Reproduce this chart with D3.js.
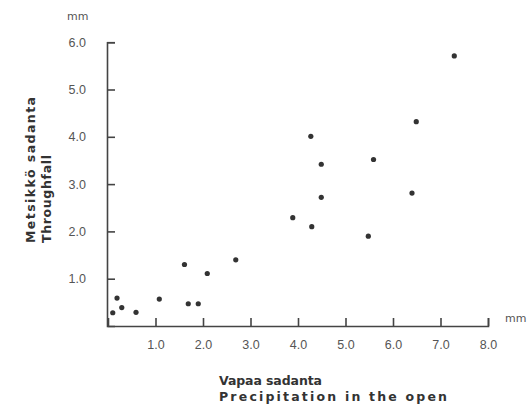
<!DOCTYPE html>
<html lang="fi">

<head>
    <meta charset="UTF-8">
    <title>Metsikkö sadanta</title>
    <style>
        * {
            margin: 0;
            padding: 0;
        }

        html,
        body {
            overflow: hidden;
            background: #fff;
        }
    </style>
</head>

<body>
    <div id="chart"></div>
    <script src="https://cdn.jsdelivr.net/npm/d3@7"></script>
    <script>
        // vapaa sadanta (open) vs metsikkö sadanta (throughfall), mm
        const openPrecip = [0.10, 0.19, 0.29, 0.59, 1.08, 1.61, 1.69, 1.90, 2.09, 2.69,
            3.89, 4.29, 4.27, 4.49, 4.49, 5.48, 5.59, 6.40, 6.49, 7.29]
        const throughfall = [0.28, 0.59, 0.39, 0.29, 0.57, 1.30, 0.47, 0.47, 1.11, 1.40,
            2.29, 2.10, 4.01, 3.42, 2.72, 1.90, 3.52, 2.81, 4.32, 5.71]
        const xTicks = [1, 2, 3, 4, 5, 6, 7, 8]
        const yTicks = [1, 2, 3, 4, 5, 6]

        function drawChart() {
            const width = 531
            const height = 405
            const svg = d3.select('#chart')
                .append('svg')
                .attr('width', width)
                .attr('height', height)
                .style('background', '#fff')
                .style('font-family', 'DejaVu Sans, sans-serif')

            const x = d3.scaleLinear().domain([0, 8]).range([108, 488])
            const y = d3.scaleLinear().domain([0, 6]).range([326, 42.2])

            const axisColor = '#444'
            const labelColor = '#555'

            // x-akseli, tikit ylöspäin
            const gx = svg.append('g')
                .attr('transform', `translate(0,${y(0)})`)
                .call(d3.axisBottom(x)
                    .tickValues(xTicks)
                    .tickFormat(d3.format('.1f'))
                    .tickSizeInner(-8)
                    .tickSizeOuter(-8)
                    .tickPadding(14))
            gx.select('.domain').attr('stroke', axisColor).attr('stroke-width', 1.6)
            gx.selectAll('.tick line').attr('stroke', axisColor).attr('stroke-width', 1.6)
            gx.selectAll('.tick text')
                .attr('fill', labelColor)
                .style('font-size', '12.5px')

            // y-akseli, tikit oikealle
            const gy = svg.append('g')
                .attr('transform', `translate(${x(0) - 1},0)`)
                .call(d3.axisLeft(y)
                    .tickValues(yTicks)
                    .tickFormat(d3.format('.1f'))
                    .tickSizeInner(-8)
                    .tickSizeOuter(-8)
                    .tickPadding(21))
            gy.select('.domain').attr('stroke', axisColor).attr('stroke-width', 1.6)
            gy.selectAll('.tick line').attr('stroke', axisColor).attr('stroke-width', 1.6)
            gy.selectAll('.tick text')
                .attr('fill', labelColor)
                .style('font-size', '12.5px')

            // yksiköt
            svg.append('text')
                .attr('x', 67)
                .attr('y', 20)
                .attr('fill', labelColor)
                .style('font-size', '11px')
                .text('mm')
            svg.append('text')
                .attr('x', 505)
                .attr('y', 322)
                .attr('fill', labelColor)
                .style('font-size', '11px')
                .text('mm')

            // akselien otsikot
            const yTitle = svg.append('g')
                .attr('transform', 'translate(0,243) rotate(-90)')
            yTitle.append('text')
                .attr('x', 0)
                .attr('y', 35)
                .attr('fill', '#333')
                .style('font-size', '12.5px')
                .style('font-weight', 'bold')
                .attr('textLength', 146)
                .attr('lengthAdjust', 'spacing')
                .text('Metsikkö sadanta')
            yTitle.append('text')
                .attr('x', 0)
                .attr('y', 51)
                .attr('fill', '#333')
                .style('font-size', '12.5px')
                .style('font-weight', 'bold')
                .attr('textLength', 88)
                .attr('lengthAdjust', 'spacing')
                .text('Throughfall')

            svg.append('text')
                .attr('x', 219)
                .attr('y', 385)
                .attr('fill', '#333')
                .style('font-size', '12.5px')
                .style('font-weight', 'bold')
                .attr('textLength', 103)
                .attr('lengthAdjust', 'spacing')
                .text('Vapaa sadanta')
            svg.append('text')
                .attr('x', 219)
                .attr('y', 401)
                .attr('fill', '#333')
                .style('font-size', '12.5px')
                .style('font-weight', 'bold')
                .attr('textLength', 228)
                .attr('lengthAdjust', 'spacing')
                .text('Precipitation  in  the  open')

            // havaintopisteet
            svg.selectAll('circle')
                .data(d3.range(openPrecip.length))
                .join('circle')
                .attr('cx', i => x(openPrecip[i]))
                .attr('cy', i => y(throughfall[i]))
                .attr('r', 2.6)
                .attr('fill', '#333')
        }

        drawChart()
    </script>
</body>

</html>
